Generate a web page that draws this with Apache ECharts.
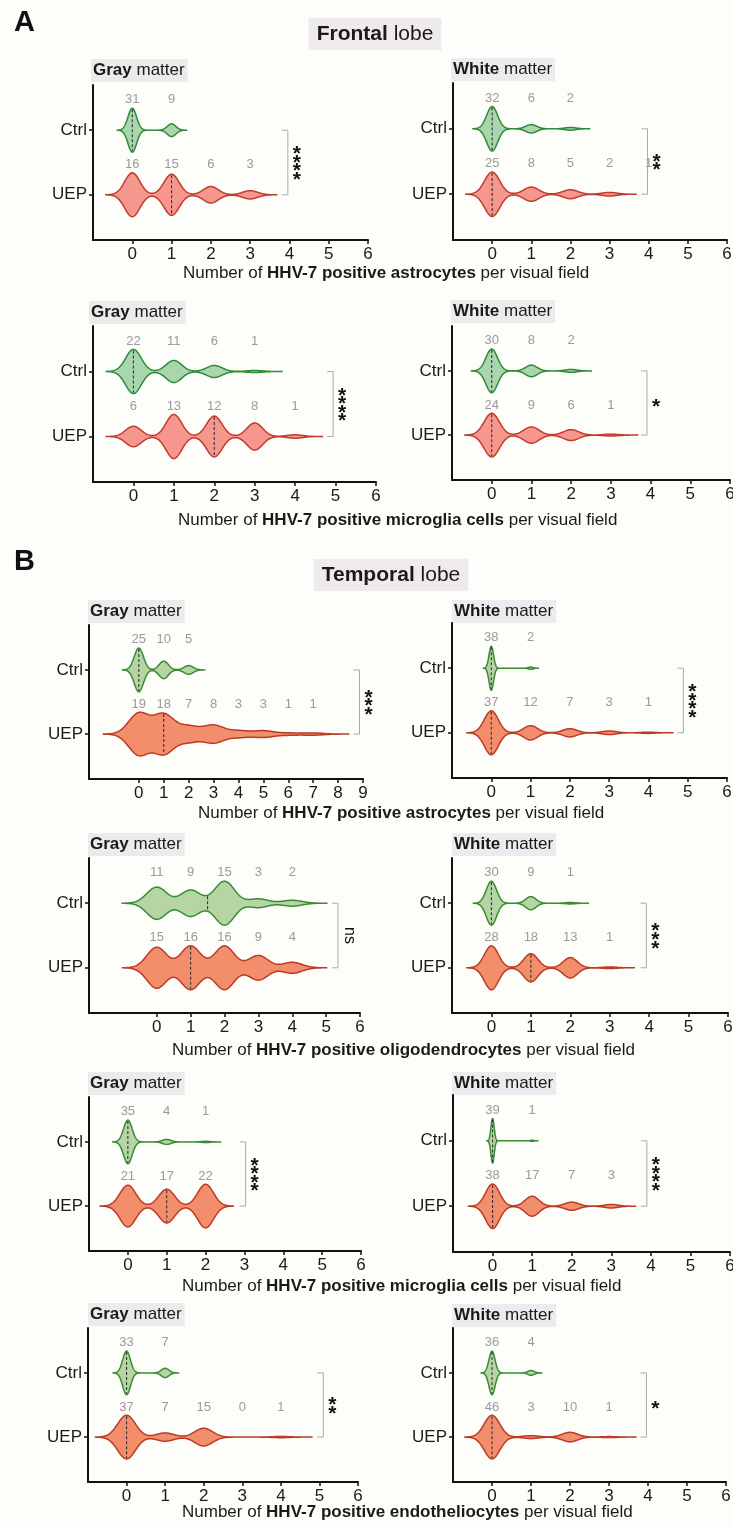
<!DOCTYPE html>
<html><head><meta charset="utf-8">
<script src="https://cdn.jsdelivr.net/npm/echarts@6/dist/echarts.min.js"></script>
<style>html,body{margin:0;padding:0;background:#fdfdf9}#c{width:733px;height:1528px}</style>
</head><body><div id="c"></div><script>
// ---------------- DATA ----------------
const groups = ['UEP', 'Ctrl'];                 // y = 1, y = 2
const matter = ['Gray','White','Gray','White','Gray','White','Gray','White','Gray','White','Gray','White'];
const lobeOfPanel = ['F','F','F','F','T','T','T','T','T','T','T','T'];
const lobeTitles = [['Frontal', ' lobe'], ['Temporal', ' lobe']];
const sectionLetters = ['A', 'B'];
// counts of visual fields with 0,1,2,... positive cells
const ctrlCounts = [[31,9],[32,6,2],[22,11,6,1],[30,8,2],[25,10,5],[38,2],[11,9,15,3,2],[30,9,1],[35,4,1],[39,1],[33,7],[36,4]];
const uepCounts  = [[16,15,6,3],[25,8,5,2],[6,13,12,8,1],[24,9,6,1],[19,18,7,8,3,3,1,1],[37,12,7,3,1],[15,16,16,9,4],[28,18,13,1],[21,17,22],[38,17,7,3],[37,7,15,0,1],[46,3,10,1]];
// printed numbers above the violins
const ctrlLabels = [[31,9],[32,6,2],[22,11,6,1],[30,8,2],[25,10,5],[38,2],[11,9,15,3,2],[30,9,1],[35,4,1],[39,1],[33,7],[36,4]];
const uepLabels  = [[16,15,6,3],[25,8,5,2,1],[6,13,12,8,1],[24,9,6,1],[19,18,7,8,3,3,1,1],[37,12,7,3,1],[15,16,16,9,4],[28,18,13,1],[21,17,22],[38,17,7,3],[37,7,15,0,1],[46,3,10,1]];
const sigLabels = ['****','**','****','*','***','****','ns','***','****','****','**','*'];
const xMins = [-1,-1,-1,-1,-2,-1,-2,-1,-1,-1,-1,-1];
const xMaxes = [6,6,6,6,9,6,6,6,6,6,6,6];
const cellTypes = ['astrocytes','microglia cells','astrocytes','oligodendrocytes','microglia cells','endotheliocytes'];

// ---------------- LAYOUT / STYLE ----------------
const gridBoxes = [[93,85,368,240],[453,83,727,240],[93,326,376,482],[452,326,730,480],
  [89,625,363,779],[452,623,727,778],[89,858,360,1013],[452,858,728,1013],
  [89,1097,361,1251],[453,1095,730,1252],[88,1328,358,1482],[453,1328,726,1482]];
const bracketXs = [3.96,3.97,4.94,3.91,8.86,4.89,5.35,3.93,3.03,3.9,5.1,3.96];
const subTitlePos = [[91,59],[451,58],[89,301],[451,300],[88,600],[452,600],[88,833],[452,833],[88,1072],[452,1072],[88,1303],[452,1304]];
const xTitlePos = [[183,273],[178,520],[198,813],[172,1050],[182,1286],[182,1512]];
const lobeTitlePos = [[375,34],[391,575]];
const letterPos = [[14,23],[14,562]];
const FONT = '"Liberation Sans", Arial, sans-serif';
const COLORS = {
  F: {ctrlFill:'#a9d6ac', ctrlLine:'#2e8b3b', uepFill:'#f5978c', uepLine:'#c23b2f'},
  T: {ctrlFill:'#b6d5a5', ctrlLine:'#3a8c34', uepFill:'#f28e6c', uepLine:'#bb3b24'}
};
const HALF_W = 0.34, LABEL_DY = 0.47, CUT = 3.5, BW_ADJ = 0.6;
const STAR_SIZE = 21, STAR_STEP = 8.6;

// ---------------- KDE helpers ----------------
function expand(counts){ const a=[]; counts.forEach((c,i)=>{for(let k=0;k<c;k++)a.push(i);}); return a; }
function q1(s,p){ return s[Math.max(0, Math.ceil(s.length*p)-1)]; }
function nrd0(x){
  const n=x.length, mean=x.reduce((a,b)=>a+b,0)/n;
  const sd=Math.sqrt(x.reduce((a,b)=>a+(b-mean)*(b-mean),0)/(n-1));
  const s=x.slice().sort((a,b)=>a-b); const iqr=q1(s,.75)-q1(s,.25);
  let lo=Math.min(sd, iqr/1.34); if(!lo) lo = sd || Math.abs(x[0]) || 1;
  return 0.9*lo*Math.pow(n,-0.2);
}
function violin(counts){
  const xs=expand(counts), bw=nrd0(xs)*BW_ADJ;
  const dmin=Math.min(...xs), dmax=Math.max(...xs);
  const a=dmin-CUT*bw, b=dmax+CUT*bw, N=300;
  const dens=x=>counts.reduce((s,c,i)=>s+c*Math.exp(-0.5*((x-i)/bw)*((x-i)/bw)),0);
  const pts=[]; let mx=0;
  for(let k=0;k<=N;k++){ const x=a+(b-a)*k/N, d=dens(x); pts.push([x,d]); if(d>mx)mx=d; }
  for(let k=0;k<counts.length;k++){ const d=dens(k); if(d>mx)mx=d; }
  pts.forEach(p=>p[1]/=mx);
  const s=xs.slice().sort((p,q)=>p-q), n=s.length;
  const med = n%2 ? s[(n-1)/2] : (s[n/2-1]+s[n/2])/2;
  return {pts, med, medW: dens(med)/mx};
}

// ---------------- BUILD ----------------
const grids=[], xAxes=[], yAxes=[], series=[], graphics=[];
const range = n => Array.from({length:n+1},(_,i)=>i);

for (let p=0; p<12; p++){
  const [x0,y0,x1,y1]=gridBoxes[p];
  const col = COLORS[lobeOfPanel[p]];
  grids.push({left:x0, top:y0, width:x1-x0, height:y1-y0, containLabel:false, outerBoundsMode:'none'});
  const ticks = range(xMaxes[p]);
  xAxes.push({gridIndex:p, type:'value', min:xMins[p], max:xMaxes[p],
    axisLine:{onZero:false, lineStyle:{color:'#111', width:2}},
    axisTick:{customValues:ticks, length:4, lineStyle:{color:'#111', width:1.5}},
    axisLabel:{customValues:ticks, margin:6, fontSize:17, color:'#1a1a1a', fontFamily:FONT},
    splitLine:{show:false}});
  yAxes.push({gridIndex:p, type:'value', min:0.3, max:2.7,
    axisLine:{onZero:false, lineStyle:{color:'#111', width:2}},
    axisTick:{customValues:[1,2], length:4, lineStyle:{color:'#111', width:1.5}},
    axisLabel:{customValues:[1,2], margin:6, fontSize:17, color:'#1a1a1a', fontFamily:FONT,
      formatter:v=>groups[Math.round(v)-1]},
    splitLine:{show:false}});

  const vs = [violin(ctrlCounts[p]), violin(uepCounts[p])];
  const ys = [2, 1];
  const fills = [col.ctrlFill, col.uepFill], lines=[col.ctrlLine, col.uepLine];
  series.push({type:'custom', coordinateSystem:'cartesian2d', xAxisIndex:p, yAxisIndex:p, silent:true, animation:false,
    data: vs.map((v,i)=>[v.med, ys[i]]),
    renderItem:(params, api)=>{
      const i=params.dataIndex, v=vs[i], yc=ys[i];
      const up=v.pts.map(([x,d])=>api.coord([x, yc+d*HALF_W]));
      const lo=v.pts.slice().reverse().map(([x,d])=>api.coord([x, yc-d*HALF_W]));
      const m1=api.coord([v.med, yc+v.medW*HALF_W]), m2=api.coord([v.med, yc-v.medW*HALF_W]);
      return {type:'group', children:[
        {type:'polygon', shape:{points:up.concat(lo)}, style:{fill:fills[i], stroke:lines[i], lineWidth:1.5}},
        {type:'line', shape:{x1:m1[0], y1:m1[1]+1, x2:m2[0], y2:m2[1]-1}, style:{stroke:'#333', lineWidth:1.1, lineDash:[3,2]}}
      ]};
    }});

  // count labels
  const lab=[];
  ctrlLabels[p].forEach((c,i)=>lab.push([i, 2+LABEL_DY, c]));
  uepLabels[p].forEach((c,i)=>lab.push([i, 1+LABEL_DY, c]));
  series.push({type:'custom', coordinateSystem:'cartesian2d', xAxisIndex:p, yAxisIndex:p, silent:true, animation:false,
    data: lab,
    renderItem:(params, api)=>{
      const pt=api.coord([api.value(0), api.value(1)]);
      return {type:'text', x:pt[0], y:pt[1], style:{text:String(lab[params.dataIndex][2]), fontSize:13, fontFamily:FONT, fill:'#9d999d', align:'center', verticalAlign:'middle'}};
    }});

  // significance bracket
  const sig = sigLabels[p];
  series.push({type:'custom', coordinateSystem:'cartesian2d', xAxisIndex:p, yAxisIndex:p, silent:true, animation:false,
    data: [[bracketXs[p], 1.5]],
    renderItem:(params, api)=>{
      const a=api.coord([api.value(0), 2]), b=api.coord([api.value(0), 1]), m=api.coord([api.value(0), 1.5]);
      const children=[{type:'polyline', shape:{points:[[a[0]-6,a[1]],[a[0],a[1]],[b[0],b[1]],[b[0]-6,b[1]]]}, style:{stroke:'#aaaaaa', lineWidth:1, fill:null}}];
      if (sig==='ns') {
        children.push({type:'text', x:m[0]+11, y:m[1], rotation:-Math.PI/2,
          style:{text:sig, fontSize:16, fontFamily:FONT, fill:'#111', align:'center', verticalAlign:'middle'}});
      } else {
        const n=sig.length;
        for (let k=0;k<n;k++){
          children.push({type:'text', x:m[0]+9, y:m[1]+(k-(n-1)/2)*STAR_STEP+0.22*STAR_SIZE,
            style:{text:'*', fontSize:STAR_SIZE, fontWeight:'bold', fontFamily:FONT, fill:'#111', align:'center', verticalAlign:'middle'}});
        }
      }
      return {type:'group', children};
    }});

  // subpanel title
  graphics.push({type:'text', x:subTitlePos[p][0], y:subTitlePos[p][1], silent:true,
    style:{text:'{b|'+matter[p]+'} matter', fontSize:17, fontFamily:FONT, fill:'#1a1a1a', align:'left', verticalAlign:'top',
      backgroundColor: matter[p]==='Gray' ? '#ebebeb' : '#eeebef', padding:[3,3,3,2],
      rich:{b:{fontWeight:'bold', fontSize:17, fontFamily:FONT, fill:'#1a1a1a'}}}});
}

// x-axis titles
cellTypes.forEach((t,i)=>{
  graphics.push({type:'text', x:xTitlePos[i][0], y:xTitlePos[i][1], silent:true,
    style:{text:'Number of {b|HHV-7 positive '+t+'} per visual field', fontSize:17, fontFamily:FONT, fill:'#1a1a1a', align:'left', verticalAlign:'middle',
      rich:{b:{fontWeight:'bold', fontSize:17, fontFamily:FONT, fill:'#1a1a1a'}}}});
});
// lobe titles
lobeTitles.forEach((t,i)=>{
  graphics.push({type:'text', x:lobeTitlePos[i][0], y:lobeTitlePos[i][1], silent:true,
    style:{text:'{b|'+t[0]+'}'+t[1], fontSize:21, fontFamily:FONT, fill:'#1a1a1a', align:'center', verticalAlign:'middle',
      backgroundColor:'#eeeaee', padding:[6,8,5,8],
      rich:{b:{fontWeight:'bold', fontSize:21, fontFamily:FONT, fill:'#1a1a1a'}}}});
});
// section letters
sectionLetters.forEach((l,i)=>{
  graphics.push({type:'text', x:letterPos[i][0], y:letterPos[i][1], silent:true,
    style:{text:l, fontSize:29, fontWeight:'bold', fontFamily:FONT, fill:'#111', align:'left', verticalAlign:'middle'}});
});

const chart = echarts.init(document.getElementById('c'), null, {renderer:'canvas', width:733, height:1528});
chart.setOption({backgroundColor:'#fdfdf9', animation:false, grid:grids, xAxis:xAxes, yAxis:yAxes, series:series, graphic:graphics});
</script></body></html>
